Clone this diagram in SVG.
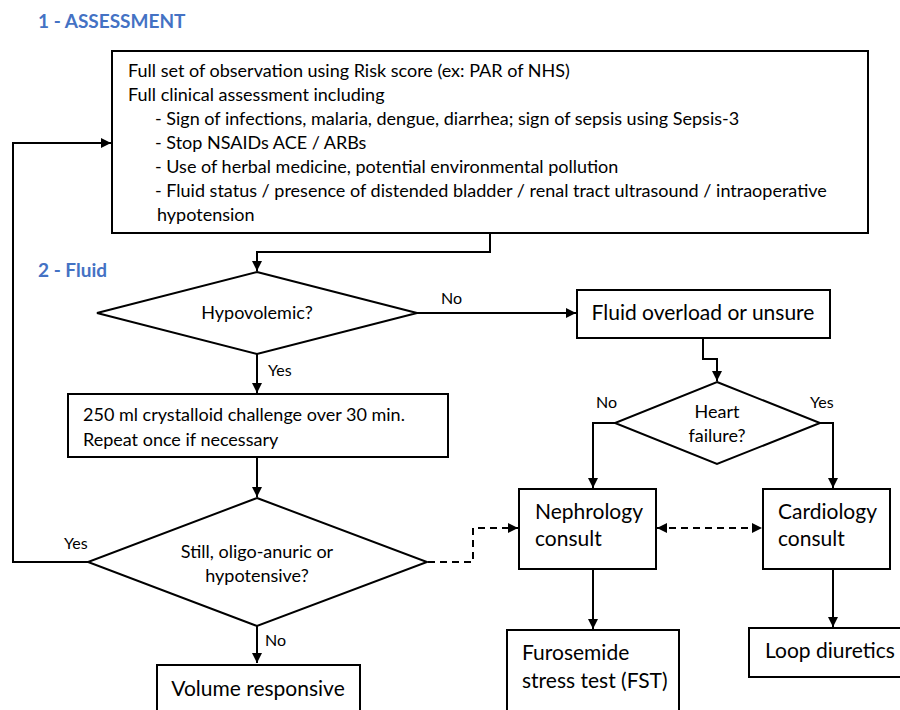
<svg xmlns="http://www.w3.org/2000/svg" width="900" height="710" viewBox="0 0 900 710">
<defs>
<marker id="ah" markerWidth="11" markerHeight="11" refX="10" refY="5" orient="auto-start-reverse" markerUnits="userSpaceOnUse">
<path d="M0,0 L10,5 L0,10 z" fill="#000"/>
</marker>
<style>
.box{fill:#fff;stroke:#000;stroke-width:2}
.ln{fill:none;stroke:#000;stroke-width:2}
.dash{fill:none;stroke:#000;stroke-width:2;stroke-dasharray:7 5}
.t{font-family:Lato,"Liberation Sans",sans-serif;fill:#000}
.s{font-size:16px}
.m{font-size:18px}
.l{font-size:21px}
.h{font-family:Lato,"Liberation Sans",sans-serif;font-size:19px;font-weight:bold;fill:#4472C4}
</style>
</defs>
<rect width="900" height="710" fill="#fff"/>
<text class="h" x="38" y="28">1 - ASSESSMENT</text>
<text class="h" x="38" y="277">2 - Fluid</text>

<g id="connectors">
<polyline class="ln" points="490,233 490,252 257,252 257,271" marker-end="url(#ah)"/>
<line class="ln" x1="417" y1="313" x2="576" y2="313" marker-end="url(#ah)"/>
<line class="ln" x1="257" y1="354" x2="257" y2="393" marker-end="url(#ah)"/>
<line class="ln" x1="257" y1="457" x2="257" y2="497" marker-end="url(#ah)"/>
<polyline class="ln" points="88,562 13,562 13,143 111,143" marker-end="url(#ah)"/>
<line class="ln" x1="257" y1="626" x2="257" y2="663" marker-end="url(#ah)"/>
<polyline class="ln" points="703,338 703,359 717,359 717,381" marker-end="url(#ah)"/>
<polyline class="ln" points="615,423 593,423 593,488" marker-end="url(#ah)"/>
<polyline class="ln" points="820,423 833,423 833,488" marker-end="url(#ah)"/>
<line class="ln" x1="593" y1="569" x2="593" y2="629" marker-end="url(#ah)"/>
<line class="ln" x1="833" y1="569" x2="833" y2="627" marker-end="url(#ah)"/>
<polyline class="dash" points="428,562 473,562 473,528 518,528" marker-end="url(#ah)"/>
<line class="dash" x1="657" y1="528" x2="762" y2="528" marker-start="url(#ah)" marker-end="url(#ah)"/>
<text class="t s" x="441" y="304">No</text>
<text class="t s" x="268" y="376">Yes</text>
<text class="t s" x="64" y="549">Yes</text>
<text class="t s" x="265" y="646">No</text>
<text class="t s" x="596" y="408">No</text>
<text class="t s" x="810" y="408">Yes</text>
</g>

<g id="assessment">
<rect class="box" x="112" y="51" width="756" height="182"/>
<text class="t m" x="128" y="77">Full set of observation using Risk score (ex: PAR of NHS)</text>
<text class="t m" x="128" y="101">Full clinical assessment including</text>
<text class="t m" x="155" y="125">- Sign of infections, malaria, dengue, diarrhea; sign of sepsis using Sepsis-3</text>
<text class="t m" x="155" y="149">- Stop NSAIDs ACE / ARBs</text>
<text class="t m" x="155" y="173">- Use of herbal medicine, potential environmental pollution</text>
<text class="t m" x="155" y="197">- Fluid status / presence of distended bladder / renal tract ultrasound / intraoperative</text>
<text class="t m" x="157" y="221">hypotension</text>
</g>

<g id="hypovolemic">
<polygon class="box" points="257,272 417,313 257,354 97,313"/>
<text class="t m" x="257" y="319" text-anchor="middle">Hypovolemic?</text>
</g>

<g id="crystalloid">
<rect class="box" x="68" y="394" width="380" height="63"/>
<text class="t m" x="83" y="421">250 ml crystalloid challenge over 30 min.</text>
<text class="t m" x="83" y="446">Repeat once if necessary</text>
</g>

<g id="still">
<polygon class="box" points="257,498 427,562 257,626 88,562"/>
<text class="t m" x="257" y="558" text-anchor="middle">Still, oligo-anuric or</text>
<text class="t m" x="257" y="582" text-anchor="middle">hypotensive?</text>
</g>

<g id="volume">
<rect class="box" x="157" y="665" width="203" height="60"/>
<text class="t l" x="258" y="696" text-anchor="middle">Volume responsive</text>
</g>

<g id="overload">
<rect class="box" x="577" y="290" width="253" height="48"/>
<text class="t l" x="703" y="320" text-anchor="middle">Fluid overload or unsure</text>
</g>

<g id="heart">
<polygon class="box" points="717,382 820,423 717,464 615,423"/>
<text class="t m" x="717" y="418" text-anchor="middle">Heart</text>
<text class="t m" x="717" y="442" text-anchor="middle">failure?</text>
</g>

<g id="nephrology">
<rect class="box" x="519" y="489" width="137" height="80"/>
<text class="t l" x="535" y="519">Nephrology</text>
<text class="t l" x="535" y="546">consult</text>
</g>

<g id="cardiology">
<rect class="box" x="763" y="489" width="127" height="80"/>
<text class="t l" x="778" y="519">Cardiology</text>
<text class="t l" x="778" y="546">consult</text>
</g>

<g id="furosemide">
<rect class="box" x="507" y="630" width="172" height="100"/>
<text class="t l" x="522" y="660">Furosemide</text>
<text class="t l" x="522" y="688">stress test (FST)</text>
</g>

<g id="loop">
<rect class="box" x="749" y="628" width="170" height="49"/>
<text class="t l" x="765" y="658">Loop diuretics</text>
</g>
</svg>
